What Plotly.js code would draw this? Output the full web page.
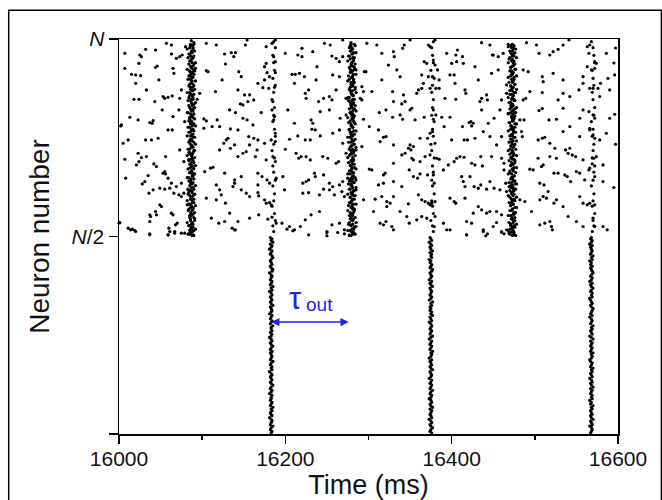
<!DOCTYPE html>
<html>
<head>
<meta charset="utf-8">
<script src="https://cdn.plot.ly/plotly-3.0.1.min.js"></script>
<style>html,body{margin:0;padding:0;background:#fff;}#chart{width:662px;height:500px;}</style>
</head>
<body>
<div id="chart"></div>
<script>
// ---------- DATA (time in ms, neuron index; N = 1186) ----------
const N = 1186;
const xTickVals = [16000, 16200, 16400, 16600];
const xTickText = ["16000", "16200", "16400", "16600"];
const yTickVals = [0, N / 2, N];
const yTickText = ["", "<i>N</i>/2", "<i>N</i>"];

// scattered spikes of the upper population, left part (16000-16290 ms)
const scatterAX = [16007,16057,16063,16080,16105,16117,16152,16154,16177,16184,16188,16220,16247,16254,16269,
16025,16027,16044,16032,16063,16069,16073,16076,16127,16135,16140,16138,16200,16215,16220,16233,16256,16261,16265,16269,16177,16175,16188,16007,16024,16128,16186,
16046,16044,16065,16066,16092,16105,16107,16144,16147,16015,16020,16026,16048,16020,16175,16181,16178,16188,16208,16212,16217,16223,16238,16237,16257,16265,16285,16124,16167,16173,16180,16187,16211,
16033,16075,16116,16097,16143,16151,16157,16228,16224,16261,16018,16024,16043,16053,16055,16059,16064,16073,16094,16155,16162,16146,16149,16185,16225,16240,16246,16253,16256,16273,
16013,16023,16037,16041,16040,16052,16065,16072,16079,16102,16105,16133,16140,16149,16154,16161,16171,16184,16187,16186,16203,16211,16231,16233,16242,16253,16266,16273,16003,16112,16118,16121,16134,16232,16265,
16005,16011,16032,16039,16047,16059,16064,16102,16126,16129,16131,16143,16156,16162,16167,16175,16183,16188,16188,16205,16215,16224,16230,16236,16242,16257,16269,16277,
16007,16023,16024,16027,16021,16033,16042,16045,16056,16073,16078,16084,16110,16113,16121,16134,16139,16143,16149,16153,16157,16166,16164,16177,16185,16188,16200,16213,16216,16219,16225,16230,16245,16251,16261,16264,16273,16285,
16008,16028,16031,16035,16053,16056,16055,16059,16063,16069,16075,16089,16103,16117,16127,16139,16139,16147,16167,16172,16178,16181,16167,16189,16197,16221,16225,16228,16235,16236,16246,16253,16257,16265,16269,16275,16285,
16036,16041,16049,16055,16061,16066,16072,16075,16078,16083,16105,16117,16121,16123,16128,16137,16147,16153,16157,16167,16168,16175,16177,16181,16183,16199,16221,16228,16241,16246,16253,16259,16268,16271,16285,16051,16049,16044,16037,16082,
16000,16011,16016,16020,16037,16038,16045,16063,16065,16068,16070,16060,16085,16088,16111,16120,16127,16133,16136,16140,16143,16157,16168,16179,16184,16189,16196,16202,16205,16211,16218,16224,16231,16241,16250,16256,16265,16271,16280,16285,16037,16059,16067,16075,
16014,16019,16037,16059,16061,16067,16079,16085,16089,16139,16209,16228,16250,16250,16263,16271,16277,16002,16001];
const scatterAY = [1143,1173,1168,1163,1173,1168,1168,1183,1163,1173,1183,1158,1173,1168,1183,
1138,1133,1153,1155,1141,1128,1133,1138,1141,1145,1145,1133,1143,1138,1133,1148,1135,1128,1118,1133,1113,1103,1118,1098,1113,1111,1133,
1105,1101,1098,1083,1098,1091,1088,1088,1073,1080,1078,1076,1063,1053,1063,1073,1085,1085,1080,1080,1083,1073,1103,1063,1078,1073,1093,1063,1053,1040,1038,1041,1053,
1033,1033,1028,1023,1033,1018,1018,1033,1023,1033,1005,1005,998,1013,1008,1011,1015,1008,1005,998,1003,991,988,998,1008,998,1008,1013,1003,1008,
951,943,935,941,933,973,953,973,938,946,940,973,965,948,943,928,965,973,953,943,973,933,943,933,968,973,948,958,928,923,943,923,916,915,913,
873,883,883,883,888,913,913,918,873,883,888,913,893,888,883,873,883,903,878,885,895,883,883,913,895,903,873,913,
825,843,818,830,808,833,811,803,833,853,818,845,798,801,853,858,868,833,843,848,868,853,833,823,833,818,855,843,828,833,833,823,833,828,813,818,843,853,
768,751,758,776,783,781,788,768,753,743,753,783,788,748,783,763,753,773,783,773,763,753,748,768,773,753,758,763,783,773,778,753,743,748,758,768,763,
723,733,738,735,738,723,718,713,723,733,708,703,733,718,693,743,733,723,713,725,715,703,693,695,688,733,723,725,718,735,733,718,728,713,733,683,688,668,658,688,
633,618,615,608,638,653,658,663,658,628,633,618,603,613,648,633,638,663,618,613,638,648,658,645,651,633,633,615,623,613,623,643,658,668,608,628,633,613,608,623,601,598,603,603,
613,611,598,598,608,608,603,601,598,613,610,598,605,595,605,601,598,925,635];

// scattered spikes of the upper population, right part (16290-16600 ms)
const scatterBX = [16298,16310,16316,16330,16331,16341,16343,16350,16372,16374,16380,16394,16405,16407,16413,16436,16446,16449,16456,16462,16468,16490,16502,16505,16518,16522,16528,16534,16541,16563,16566,16565,16574,16586,16324,16370,16367,16378,16380,16400,16406,16414,16428,16450,
16295,16297,16316,16334,16338,16366,16364,16372,16377,16383,16385,16398,16403,16404,16432,16448,16456,16466,16486,16492,16509,16510,16522,16534,16558,16563,16568,16572,16572,16579,16588,
16292,16294,16304,16329,16342,16344,16358,16360,16364,16374,16381,16385,16392,16405,16416,16417,16434,16436,16442,16443,16460,16466,16486,16489,16494,16509,16528,16534,16542,16553,16558,16566,16570,16576,16578,16590,16290,16292,16330,16340,16352,
16294,16301,16313,16321,16329,16338,16341,16350,16356,16367,16378,16381,16378,16388,16391,16398,16413,16421,16423,16426,16424,16436,16444,16451,16458,16468,16482,16487,16505,16509,16517,16526,16534,16542,16554,16558,16565,16570,16572,16566,16590,
16312,16314,16318,16321,16330,16350,16354,16362,16371,16374,16377,16380,16400,16415,16419,16428,16438,16446,16454,16460,16484,16485,16504,16509,16512,16518,16524,16534,16542,16554,16566,16570,16572,16578,16586,16292,
16301,16304,16318,16320,16330,16340,16344,16348,16351,16352,16354,16362,16368,16374,16382,16385,16396,16403,16406,16410,16415,16424,16428,16435,16437,16448,16460,16463,16463,16494,16498,16504,16508,16510,16518,16526,16537,16540,16545,16549,16558,16566,16569,16574,16582,16571,
16312,16318,16330,16340,16349,16354,16359,16362,16371,16378,16379,16390,16412,16414,16416,16422,16427,16432,16435,16442,16446,16451,16458,16465,16466,16469,16472,16506,16511,16516,16523,16528,16536,16539,16543,16550,16554,16560,16565,16572,16582,
16294,16308,16316,16322,16326,16322,16330,16348,16360,16364,16368,16372,16374,16376,16380,16398,16403,16405,16416,16426,16432,16436,16442,16446,16454,16460,16482,16488,16506,16510,16514,16523,16526,16534,16554,16558,16563,16566,16572,16306,16338,16349,
16314,16318,16321,16328,16330,16346,16358,16364,16370,16380,16379,16390,16394,16418,16424,16418,16438,16443,16450,16454,16460,16466,16469,16496,16506,16512,16518,16520,16540,16550,16558,16570,16572,16582,16587,
16398,16418,16438,16441,16460,16463,16470,16474,16521,16597,16595,16596,16596,16597,16595];
const scatterBY = [1173,1168,1143,1148,1133,1158,1168,1183,1168,1163,1183,1143,1138,1153,1133,1175,1168,1138,1133,1143,1163,1175,1168,1143,1138,1148,1155,1168,1183,1163,1168,1143,1113,1143,1108,1113,1118,1123,1108,1113,1118,1113,1103,1138,
1088,1088,1063,1093,1073,1053,1078,1073,1073,1093,1063,1078,1078,1053,1063,1083,1093,1048,1093,1088,1073,1058,1083,1063,1073,1103,1093,1118,1098,1053,1068,
1043,1028,1028,1028,1018,998,1023,1033,1038,1038,1038,1038,1008,1005,1033,1023,998,1008,1018,1003,1003,1023,1003,1008,1028,1025,1003,1023,1013,1033,1053,1038,1038,1038,1013,1033,1008,1003,998,991,978,
945,923,965,973,951,958,945,973,943,951,973,958,945,951,923,951,923,935,938,933,925,973,933,948,973,963,943,943,971,977,943,945,978,923,948,973,968,958,948,918,948,
913,878,891,893,868,868,863,888,888,903,908,873,883,883,883,888,908,893,868,893,908,893,883,888,891,873,858,908,858,893,913,898,888,883,903,863,
795,793,778,783,813,838,843,858,853,828,823,818,833,838,828,825,808,818,828,833,831,813,808,833,805,833,828,813,793,795,793,828,803,808,833,828,853,843,838,833,823,798,811,833,808,828,
748,753,758,743,793,773,768,781,778,778,753,793,773,758,743,773,743,738,748,735,758,738,733,753,728,743,723,753,748,728,783,783,778,773,758,788,783,763,793,773,758,
703,705,713,698,693,683,713,691,718,703,698,693,688,693,698,708,698,693,708,663,683,673,663,668,668,658,703,698,703,713,708,693,703,683,713,693,688,693,688,668,668,633,
633,628,638,623,613,653,643,653,648,653,623,633,613,638,633,598,613,601,623,635,608,613,603,668,628,633,638,623,653,638,623,648,623,623,613,
613,598,608,595,605,601,605,598,613,1159,1114,1078,960,870,740];

// synchronous bursts of the upper population (two spike passes per burst)
const upperBurstTimes = [16087, 16280, 16473];
const upperBurstY = [596,600,606,611,615,621,626,630,635,641,646,650,656,660,665,671,675,680,686,690,695,701,705,711,716,720,725,731,735,740,746,751,755,760,766,770,775,781,785,790,796,800,806,810,815,821,825,830,836,840,845,851,855,861,865,870,876,880,885,891,895,900,906,910,915,921,925,931,935,940,946,950,955,961,965,970,976,980,986,990,995,1001,1005,1010,1016,1020,1025,1031,1035,1041,1045,1050,1056,1060,1065,1071,1075,1080,1086,1090,1095,1101,1105,1111,1115,1120,1126,1130,1135,1141,1145,1150,1156,1160,1166,1170,1175,1181];
const upperBurst1Dx = [1,-2,0,3,-1,2,-3,0,1,-1,4,-2,0,2,-1,1,-3,2,0,-2,3,1,-1,0,2,-4,1,-1,3,0,-2,1,2,-1,0,-3,2,1,-2,0,3,-1,1,-2,0,2,-3,1,0,-1,2,4,-2,0,1,-1,3,-2,0,2,-1,1,-3,0,2,-2,1,3,-1,0,-2,2,1,-1,-4,0,2,-2,1,3,0,-1,2,-3,1,0,-2,2,-1,1,3,-2,0,1,-1,2,-3,0,1,-2,2,0,-1,3,1,-2,0,2,-1,-3,1,0,2,-2,1,-1,3,0,-2,1];
const upperBurst2Dx = [-1,1,2,-2,0,3,-1,1,-3,0,2,-1,1,0,-2,3,1,-1,0,2,-3,0,1,-2,2,0,-1,3,-2,1,0,-1,2,-3,1,0,2,-2,1,-1,0,3,-2,1,0,-1,2,1,-3,0,2,-1,1,-2,0,3,-1,2,0,-2,1,-1,0,2,-3,1,0,-1,3,-2,1,2,0,-1,-2,1,3,0,-1,2,-2,0,1,-3,2,0,-1,1,4,-2,0,1,-1,2,-3,0,1,2,-1,0,-2,3,1,-1,0,2,-2,1,-3,0,2,-1,1,0,-2,3,-1];
const upperBurst3Dx = [0,2,-1,1,-3,0,2,-2,1,3,-1,0,-2,1,2,-1,0,3,-2,1,-1,0,2,-3,1,0,-1,2,1,-2,0,3,-1,1,-2,0,2,-1,-3,1,0,2,-2,1,-1,3,0,-2,1,2,-1,0,-3,1,2,0,-1,1,-2,3,0,-1,2,1,-2,0,-1,3,-3,1,0,2,-1,1,-2,0,3,-1,1,0,-2,2,-1,0,1,-3,2,0,-1,1,-2,3,0,1,-1,2,-2,0,1,-1,3,-2,0,2,1,-1,0,-3,2,1,-2,0,1,-1,2,0];
const upperBurst1DxB = [3,-4,1,-2,5,0,-3,2,-5,4,-1,3,-2,0,4,-4,2,-1,5,-3,1,-5,3,0,-2,4,-3,1,-4,2,5,-1,0,-3,3,-5,1,4,-2,0,-4,2,5,-1,3,-3,0,4,-5,1,-2,3,-4,2,0,5,-3,1,-1,4,-5,2,-2,3,0,-4,5,-1,1,-3,4,-2,0,3,-5,2,-1,4,-3,1,5,-4,0,2,-2,3,-5,1,4,-1,-3,2,0,5,-4,1,-2,3,-1,4,-5,0,2,-3,5,-1,1,-4,3,-2,0,4,-5,2,-1,3];
const upperBurst2DxB = [-3,4,0,-5,2,3,-1,-4,5,1,-2,4,-3,0,2,-5,3,1,-4,5,-1,0,3,-2,4,-5,1,2,-3,5,-1,-4,3,0,-2,4,1,-5,2,-3,5,0,-1,3,-4,2,1,-5,4,-2,0,3,-3,5,-1,2,-4,1,4,-5,0,3,-2,5,-3,1,-1,4,-4,2,0,-5,3,1,-2,5,-3,0,4,-1,2,-4,3,-5,1,0,5,-2,-3,4,1,-1,3,-5,2,0,-4,5,-2,1,3,-3,-1,4,0,-5,2,3,-4,1,5,-2,0,-3,4,-1];
const upperBurst3DxB = [4,-3,2,-5,0,3,-2,5,-4,1,-1,3,-5,2,4,-3,0,5,-2,1,-4,3,-1,5,-5,2,0,-3,4,1,-2,5,-4,3,0,-1,2,-5,4,-3,1,5,-2,0,3,-4,2,-1,5,-3,1,-5,4,0,-2,3,-4,5,-1,2,-3,0,4,-5,1,3,-2,5,-4,0,2,-1,3,-5,4,1,-3,5,-2,0,-4,3,2,-5,1,-1,4,-3,5,0,-2,3,-4,1,2,-5,5,-1,0,-3,4,-2,1,3,-5,2,-4,5,0,-1,3,-3,4,1,-2,-5];

// synchronous bursts of the lower population
const lowerBurstTimes = [16183, 16375, 16568];
const lowerBurstY = [3,8,13,19,24,28,34,39,44,49,55,59,64,70,75,80,85,90,95,101,106,110,116,121,126,131,136,141,147,152,156,162,167,172,177,182,187,193,198,202,208,213,218,223,228,233,239,244,248,254,259,264,269,274,279,285,290,294,300,305,310,315,320,325,331,336,340,346,351,356,361,366,371,377,382,386,392,397,402,407,412,417,423,428,432,438,443,448,453,458,463,469,474,478,484,489,494,499,504,509,515,520,524,530,535,540,545,550,555,561,566,570,576,581,586,590];
const lowerBurst1Dx = [0,1,-1,0,2,-1,0,1,0,-2,1,0,-1,1,0,2,-1,0,1,-1,0,0,1,-2,0,1,-1,0,2,0,-1,1,0,-1,1,0,-2,1,0,1,-1,0,2,-1,0,1,0,-1,1,-1,0,2,0,-1,1,0,-2,0,1,-1,1,0,0,2,-1,0,1,-1,0,1,-2,0,1,0,-1,2,0,-1,1,0,-1,1,0,-2,1,0,2,-1,0,1,-1,0,1,0,-2,1,2,0,-1,1,0,-1,0,2,1,-1,0,1,-2,0,1,-1,2,0,1,-1,0,1];
const lowerBurst2Dx = [1,-1,0,2,0,-1,1,0,-2,1,0,-1,0,1,-1,2,0,-1,1,0,-2,0,1,-1,0,2,-1,0,1,-1,0,1,-2,0,1,0,-1,2,0,-1,1,0,-1,1,-2,0,1,0,2,-1,0,1,-1,0,1,-2,0,2,-1,0,1,-1,0,1,0,-2,1,0,-1,2,0,1,-1,0,-1,1,0,2,-2,0,1,-1,0,1,0,-1,2,0,-1,1,-2,0,1,0,-1,1,2,-1,0,1,-1,0,-2,1,0,1,-1,2,0,-1,1,0,-2,1,0,-1];
const lowerBurst3Dx = [-1,0,1,0,-2,1,0,-1,2,0,-1,1,0,-1,1,0,2,-1,0,-2,1,0,1,-1,0,1,-1,2,0,-1,1,0,-2,1,0,-1,1,0,2,-1,0,1,-1,-2,0,1,0,2,-1,0,1,-1,0,1,-1,2,0,-2,1,0,-1,1,0,2,-1,0,1,0,-2,1,-1,0,1,2,0,-1,1,0,-1,-2,1,0,1,-1,0,2,0,-1,1,-2,0,1,-1,0,2,1,0,-1,1,-1,0,-2,1,0,2,-1,0,1,0,-1,1,-2,0,1,-1,0];

// weaker columns in the upper population driven by the lower bursts
const secondaryTimes = [16186, 16377, 16570];
const secondaryY = [608,625,641,662,684,700,721,745,762,786,805,829,851,870,894,915,938,957,980,1004,1026,1047,1068,1092,1115,1137,1160,1178];
const secondary1Dx = [0,-1,2,1,-2,0,1,-1,2,0,-1,1,-2,0,2,1,-1,0,1,-2,0,2,-1,1,0,-1,2,0];
const secondary2Dx = [1,0,-2,1,0,-1,2,0,-1,1,0,2,-1,-2,1,0,2,-1,0,1,-1,0,2,-2,1,0,-1,1];
const secondary3Dx = [-1,1,0,2,-1,0,1,-2,0,1,2,-1,0,1,-1,0,-2,1,2,0,-1,1,0,-1,2,1,0,-2];

// tau_out interval
const tauStart = 16183, tauEnd = 16278, tauLevel = 336;

// ---------- BUILD ----------
const xs = [], ys = [];
function addPts(X, Y) { for (let i = 0; i < Math.min(X.length, Y.length); i++) { xs.push(X[i]); ys.push(Y[i]); } }
addPts(scatterAX, scatterAY);
addPts(scatterBX, scatterBY);
[upperBurst1Dx, upperBurst2Dx, upperBurst3Dx].forEach((dx, k) => addPts(dx.map(d => upperBurstTimes[k] + d), upperBurstY));
[upperBurst1DxB, upperBurst2DxB, upperBurst3DxB].forEach((dx, k) => addPts(dx.map(d => upperBurstTimes[k] + d), upperBurstY));
[lowerBurst1Dx, lowerBurst2Dx, lowerBurst3Dx].forEach((dx, k) => addPts(dx.map(d => lowerBurstTimes[k] + d), lowerBurstY));
[secondary1Dx, secondary2Dx, secondary3Dx].forEach((dx, k) => addPts(dx.map(d => secondaryTimes[k] + d), secondaryY));

const blue = '#1f1ff0';
const font = 'Arial, "Liberation Sans", Helvetica, sans-serif';

const trace = {
  type: 'scatter', mode: 'markers', x: xs, y: ys,
  marker: { color: '#000', size: 3.2, line: { width: 0 } },
  hoverinfo: 'skip', showlegend: false, cliponaxis: false
};

const layout = {
  width: 662, height: 500,
  margin: { l: 119, r: 44, t: 39, b: 66, pad: 0 },
  paper_bgcolor: '#fff', plot_bgcolor: '#fff',
  font: { family: font, color: '#000' },
  showlegend: false,
  xaxis: {
    range: [16000, 16600], tickmode: 'array', tickvals: xTickVals, ticktext: xTickText,
    ticks: 'outside', ticklen: 8, tickwidth: 1.5, tickcolor: '#000', ticklabelstandoff: -3,
    minor: { dtick: 100, tick0: 16000, ticks: 'outside', ticklen: 4, tickwidth: 1.5, tickcolor: '#000', showgrid: false },
    showline: true, linecolor: '#000', linewidth: 1.5, mirror: true,
    showgrid: false, zeroline: false,
    tickfont: { size: 21, family: font, color: '#111' },
    title: { text: 'Time (ms)', font: { size: 27, family: font, color: '#111' }, standoff: 0 }
  },
  yaxis: {
    range: [0, N], tickmode: 'array', tickvals: yTickVals, ticktext: yTickText,
    ticks: 'outside', ticklen: 9, tickwidth: 1.5, tickcolor: '#000',
    showline: true, linecolor: '#000', linewidth: 1.5, mirror: true,
    showgrid: false, zeroline: false,
    tickfont: { size: 21, family: font, color: '#111' },
    title: { text: 'Neuron number', font: { size: 28, family: font, color: '#111' }, standoff: 14 }
  },
  shapes: [
    { type: 'rect', xref: 'paper', yref: 'paper', x0: -0.221, x1: 1.087, y0: -0.2, y1: 1.073,
      line: { color: '#000', width: 1.5 }, fillcolor: 'rgba(0,0,0,0)', layer: 'below' }
  ],
  annotations: [
    { x: tauStart, y: tauLevel, ax: tauEnd, ay: tauLevel, xref: 'x', yref: 'y', axref: 'x', ayref: 'y',
      text: '', showarrow: true, arrowside: 'end+start', arrowhead: 2, arrowsize: 1.1, arrowwidth: 1.5, arrowcolor: blue, standoff: 0, startstandoff: 0 },
    { x: 16202, y: 408, xref: 'x', yref: 'y', xanchor: 'left', yanchor: 'middle', text: 'τ',
      showarrow: false, font: { size: 31, family: font, color: blue } },
    { x: 16222, y: 388, xref: 'x', yref: 'y', xanchor: 'left', yanchor: 'middle', text: 'out',
      showarrow: false, font: { size: 19, family: font, color: blue } }
  ]
};

Plotly.newPlot('chart', [trace], layout, { staticPlot: true, displayModeBar: false });
</script>
</body>
</html>
